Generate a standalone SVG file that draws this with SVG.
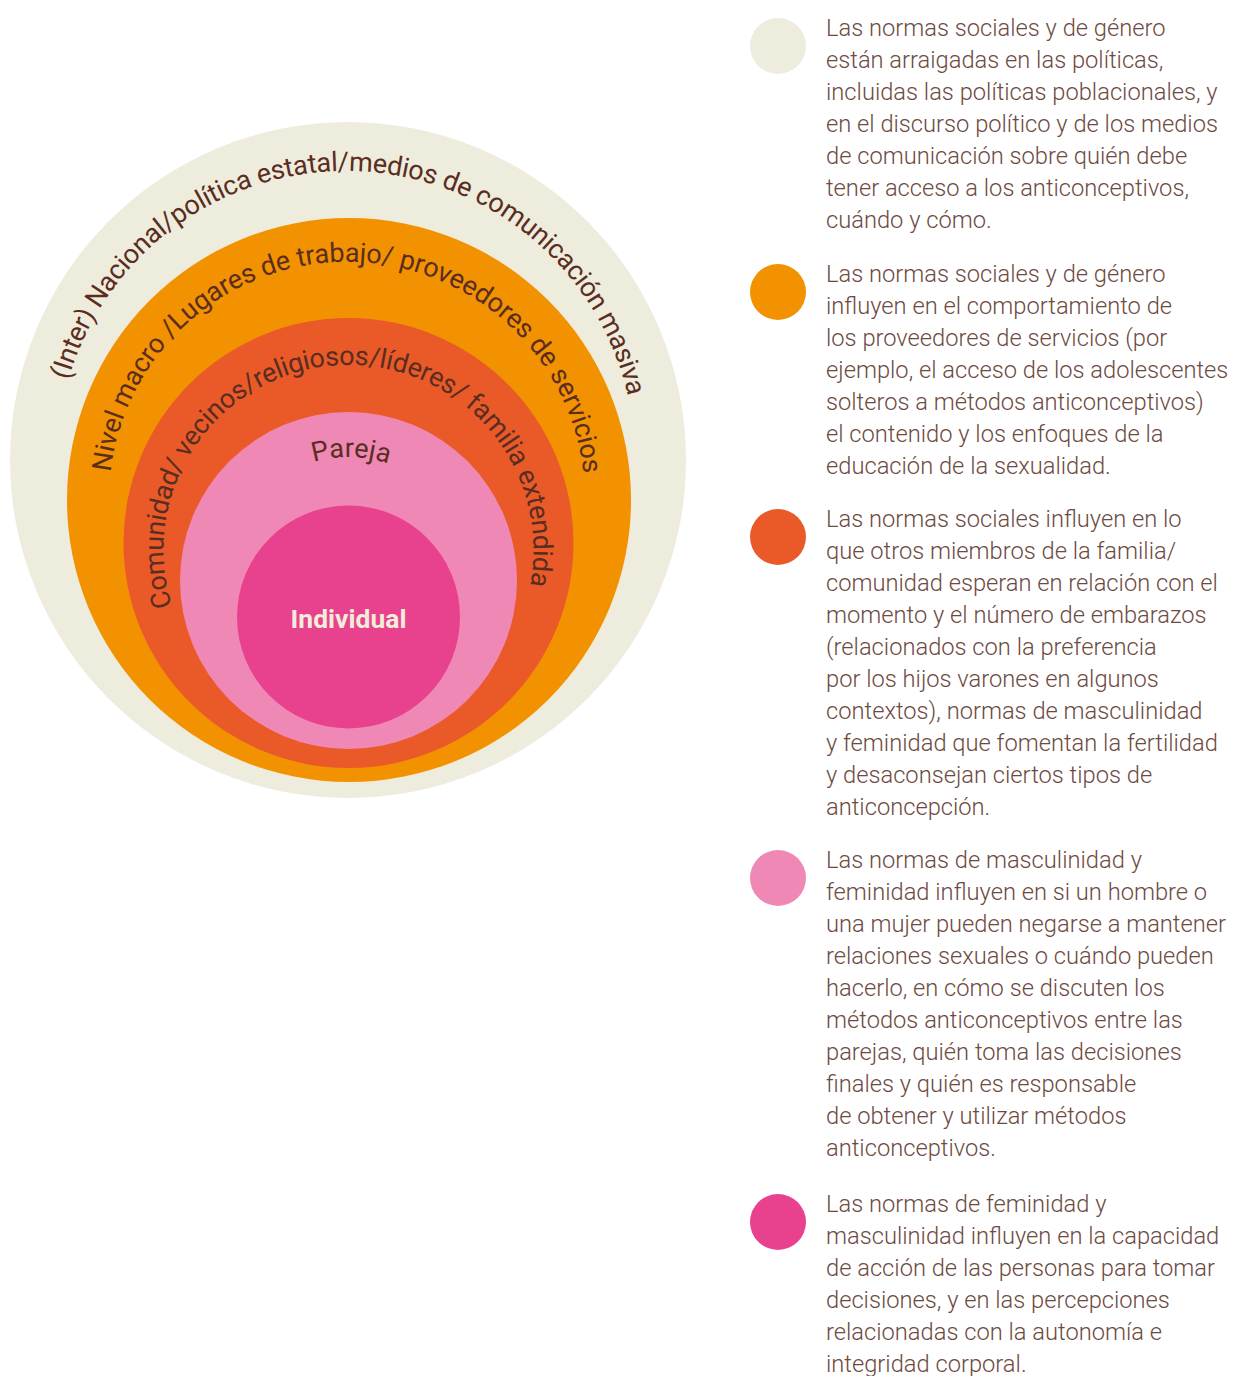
<svg xmlns="http://www.w3.org/2000/svg" xmlns:xlink="http://www.w3.org/1999/xlink" width="1243" height="1376" viewBox="0 0 1243 1376">
<style>
.arc{font-family:Roboto,"Liberation Sans",sans-serif;font-size:27px;fill:#5b2d20;}
.leg{font-family:Roboto,"Liberation Sans",sans-serif;font-size:23.7px;font-weight:300;fill:#6d4a3f;}
.c1{fill:#eeecdd}.c2{fill:#f29200}.c3{fill:#ea5a29}.c4{fill:#f088b6}.c5{fill:#e8428e}
</style>
<defs>
<path id="p1" d="M68.2,380.3 A289,289 0 0 1 633.9,434.8"/>
<path id="p2" d="M110.6,472.2 A238,238 0 0 1 585,500"/>
<path id="p3" d="M172.2,605.9 A185,185 0 1 1 522.3,613.3"/>
<path id="p4" d="M242,518.5 A123,123 0 0 1 455,518.5"/>
</defs>
<rect width="1243" height="1376" fill="#ffffff"/>
<g id="ring-national">
<circle class="c1" cx="348" cy="460" r="338"/>
<text class="arc" letter-spacing="-0.28"><textPath xlink:href="#p1" href="#p1">(Inter) Nacional/política estatal/medios de comunicación masiva</textPath></text>
</g>
<g id="ring-macro">
<circle class="c2" cx="349" cy="500" r="282"/>
<text class="arc" letter-spacing="-0.12"><textPath xlink:href="#p2" href="#p2">Nivel macro /Lugares de trabajo/ proveedores de servicios</textPath></text>
</g>
<g id="ring-community">
<circle class="c3" cx="348.5" cy="543" r="225"/>
<text class="arc" letter-spacing="-0.33"><textPath xlink:href="#p3" href="#p3">Comunidad/ vecinos/religiosos/líderes/ familia extendida</textPath></text>
</g>
<g id="ring-couple">
<circle class="c4" cx="348.5" cy="580.5" r="168.5"/>
<text class="arc" text-anchor="middle"><textPath xlink:href="#p4" href="#p4" startOffset="51%">Pareja</textPath></text>
</g>
<g id="ring-individual">
<circle class="c5" cx="348.5" cy="617" r="111.5"/>
<text x="348.5" y="628" text-anchor="middle" font-family="Roboto, 'Liberation Sans', sans-serif" font-size="26.5" font-weight="700" fill="#f3ecd9">Individual</text>
</g>
<g id="connectors"></g>
<g id="legend-1">
<circle class="c1" cx="778" cy="46" r="28"/>
<text class="leg" x="826" y="36">
<tspan x="826" y="36">Las normas sociales y de género</tspan>
<tspan x="826" y="68">están arraigadas en las políticas,</tspan>
<tspan x="826" y="100">incluidas las políticas poblacionales, y</tspan>
<tspan x="826" y="132">en el discurso político y de los medios</tspan>
<tspan x="826" y="164">de comunicación sobre quién debe</tspan>
<tspan x="826" y="196">tener acceso a los anticonceptivos,</tspan>
<tspan x="826" y="228">cuándo y cómo.</tspan>
</text>
</g>
<g id="legend-2">
<circle class="c2" cx="778" cy="292" r="28"/>
<text class="leg" x="826" y="282">
<tspan x="826" y="282">Las normas sociales y de género</tspan>
<tspan x="826" y="314">influyen en el comportamiento de</tspan>
<tspan x="826" y="346">los proveedores de servicios (por</tspan>
<tspan x="826" y="378">ejemplo, el acceso de los adolescentes</tspan>
<tspan x="826" y="410">solteros a métodos anticonceptivos)</tspan>
<tspan x="826" y="442">el contenido y los enfoques de la</tspan>
<tspan x="826" y="474">educación de la sexualidad.</tspan>
</text>
</g>
<g id="legend-3">
<circle class="c3" cx="778" cy="537" r="28"/>
<text class="leg" x="826" y="527">
<tspan x="826" y="527">Las normas sociales influyen en lo</tspan>
<tspan x="826" y="559">que otros miembros de la familia/</tspan>
<tspan x="826" y="591">comunidad esperan en relación con el</tspan>
<tspan x="826" y="623">momento y el número de embarazos</tspan>
<tspan x="826" y="655">(relacionados con la preferencia</tspan>
<tspan x="826" y="687">por los hijos varones en algunos</tspan>
<tspan x="826" y="719">contextos), normas de masculinidad</tspan>
<tspan x="826" y="751">y feminidad que fomentan la fertilidad</tspan>
<tspan x="826" y="783">y desaconsejan ciertos tipos de</tspan>
<tspan x="826" y="815">anticoncepción.</tspan>
</text>
</g>
<g id="legend-4">
<circle class="c4" cx="778" cy="878" r="28"/>
<text class="leg" x="826" y="868">
<tspan x="826" y="868">Las normas de masculinidad y</tspan>
<tspan x="826" y="900">feminidad influyen en si un hombre o</tspan>
<tspan x="826" y="932">una mujer pueden negarse a mantener</tspan>
<tspan x="826" y="964">relaciones sexuales o cuándo pueden</tspan>
<tspan x="826" y="996">hacerlo, en cómo se discuten los</tspan>
<tspan x="826" y="1028">métodos anticonceptivos entre las</tspan>
<tspan x="826" y="1060">parejas, quién toma las decisiones</tspan>
<tspan x="826" y="1092">finales y quién es responsable</tspan>
<tspan x="826" y="1124">de obtener y utilizar métodos</tspan>
<tspan x="826" y="1156">anticonceptivos.</tspan>
</text>
</g>
<g id="legend-5">
<circle class="c5" cx="778" cy="1222" r="28"/>
<text class="leg" x="826" y="1212">
<tspan x="826" y="1212">Las normas de feminidad y</tspan>
<tspan x="826" y="1244">masculinidad influyen en la capacidad</tspan>
<tspan x="826" y="1276">de acción de las personas para tomar</tspan>
<tspan x="826" y="1308">decisiones, y en las percepciones</tspan>
<tspan x="826" y="1340">relacionadas con la autonomía e</tspan>
<tspan x="826" y="1372">integridad corporal.</tspan>
</text>
</g>
</svg>
